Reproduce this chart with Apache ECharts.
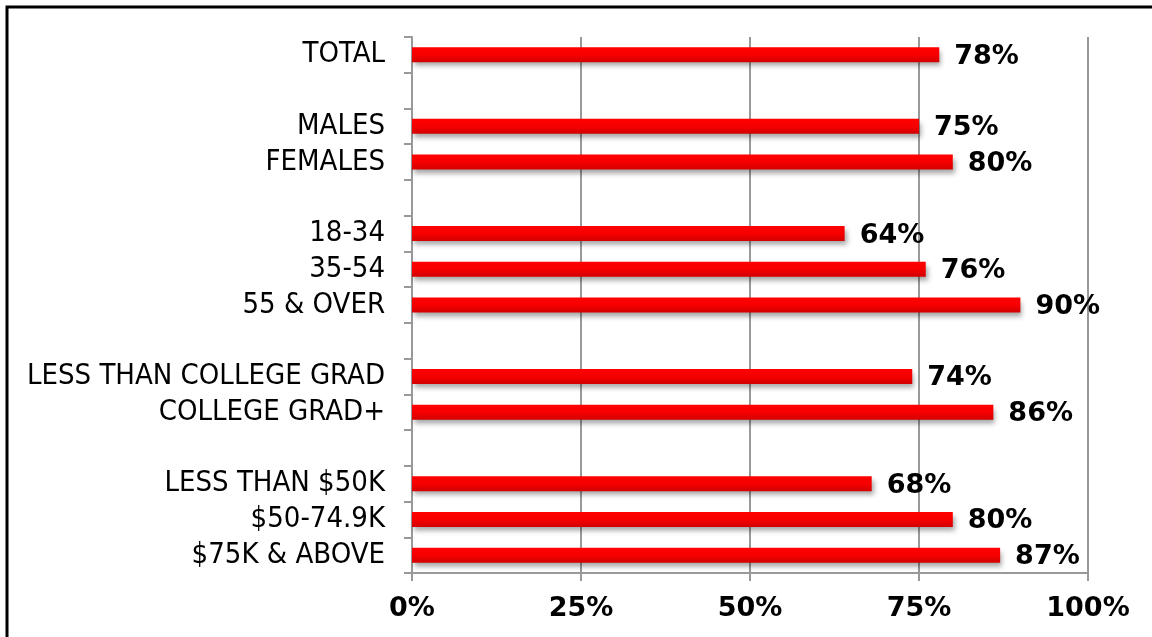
<!DOCTYPE html>
<html>
<head>
<meta charset="utf-8">
<script src="https://cdn.jsdelivr.net/npm/echarts@6/dist/echarts.min.js"></script>
<style>
html, body { margin: 0; padding: 0; background: #fff; }
#main { width: 1152px; height: 637px; }
</style>
</head>
<body>
<div id="main"></div>
<script>
// rows top to bottom, blank strings are the gaps between groups
var categories = ['TOTAL', '', 'MALES', 'FEMALES', ' ', '18-34', '35-54', '55 & OVER', '  ',
    'LESS THAN COLLEGE GRAD', 'COLLEGE GRAD+', '   ', 'LESS THAN $50K', '$50-74.9K', '$75K & ABOVE'];
var values = [78, null, 75, 80, null, 64, 76, 90, null, 74, 86, null, 68, 80, 87];
var xTicks = [0, 25, 50, 75, 100];

var chart = echarts.init(document.getElementById('main'));

var option = {
    backgroundColor: '#fff',
    animation: false,
    grid: {
        left: 412,
        right: 64,
        top: 37,
        bottom: 64
    },
    graphic: [{
        type: 'rect',
        shape: { x: 7, y: 7, width: 1300, height: 800 },
        style: { fill: 'none', stroke: '#000', lineWidth: 3 },
        silent: true
    }],
    xAxis: {
        type: 'value',
        min: xTicks[0],
        max: xTicks[xTicks.length - 1],
        interval: 25,
        axisLine: { show: true, lineStyle: { color: '#999', width: 2 } },
        axisTick: { show: true, length: 8, lineStyle: { color: '#999', width: 2 } },
        splitLine: { show: true, lineStyle: { color: '#999', width: 2 } },
        axisLabel: {
            formatter: '{value}%',
            margin: 22,
            color: '#000',
            fontFamily: 'DejaVu Sans',
            fontWeight: 'bold',
            fontSize: 27
        }
    },
    yAxis: {
        type: 'category',
        inverse: true,
        data: categories,
        axisLine: { show: true, lineStyle: { color: '#999', width: 2 } },
        axisTick: { show: true, length: 8, interval: 0, alignWithLabel: false, lineStyle: { color: '#999', width: 2 } },
        axisLabel: {
            interval: 0,
            margin: 27,
            padding: [7, 0, 0, 0],
            color: '#000',
            fontFamily: '"DejaVu Sans Condensed", "Liberation Sans"',
            fontSize: 29
        }
    },
    series: [{
        type: 'bar',
        data: values,
        barWidth: 15,
        itemStyle: {
            color: new echarts.graphic.LinearGradient(0, 0, 0, 1, [
                { offset: 0, color: '#ff0000' },
                { offset: 0.5, color: '#f60000' },
                { offset: 1, color: '#d20000' }
            ]),
            shadowColor: 'rgba(0,0,0,0.35)',
            shadowBlur: 5,
            shadowOffsetX: 2,
            shadowOffsetY: 4
        },
        label: {
            show: true,
            position: 'right',
            distance: 15,
            offset: [0, 2],
            formatter: '{c}%',
            color: '#000',
            fontFamily: 'DejaVu Sans',
            fontWeight: 'bold',
            fontSize: 27
        }
    }]
};

chart.setOption(option);
</script>
</body>
</html>
